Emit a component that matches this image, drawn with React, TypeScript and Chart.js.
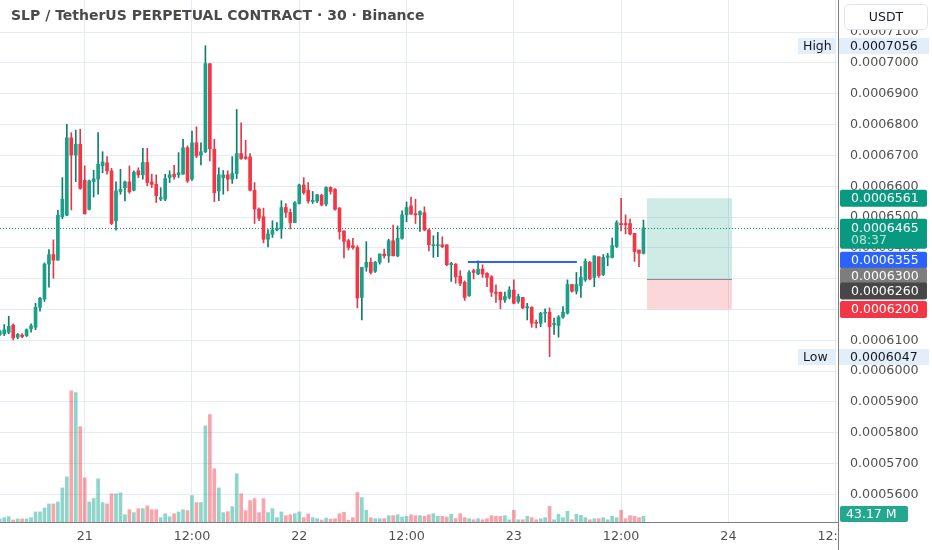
import React, { useEffect, useRef } from "react";
import { Chart, registerables } from "chart.js";

Chart.register(...registerables);

// Bars are 30-minute candles, counted from 21 00:00 (bar 0).
const FIRST_BAR = -19;

const OPEN = [
  0.0006118, 0.0006121, 0.0006126, 0.0006149, 0.000611, 0.0006117, 0.0006115, 0.0006137, 0.0006142, 0.0006207,
  0.0006234, 0.0006347, 0.0006378, 0.000636, 0.0006501, 0.0006506, 0.0006757, 0.0006701, 0.0006736,
  0.0006619, 0.0006525, 0.0006615, 0.0006623, 0.0006666, 0.0006676, 0.000665, 0.0006488, 0.0006583, 0.0006595,
  0.0006614, 0.0006587, 0.000665, 0.0006637, 0.0006677, 0.0006614, 0.0006606,
  0.0006558, 0.0006558, 0.0006628, 0.0006639, 0.0006637, 0.0006639, 0.0006725, 0.0006623, 0.0006741, 0.0006701,
  0.0006712, 0.0006998, 0.000672, 0.0006585, 0.0006628, 0.0006637, 0.0006623, 0.0006641, 0.0006706, 0.0006695,
  0.0006695, 0.0006587, 0.0006526, 0.0006501, 0.0006428, 0.0006444, 0.0006458, 0.0006461, 0.0006531, 0.0006515,
  0.0006482, 0.0006544, 0.0006604, 0.0006587,
  0.000655, 0.0006552, 0.0006571, 0.0006542, 0.0006596, 0.000659, 0.0006529, 0.0006455, 0.0006423, 0.0006407,
  0.0006401, 0.0006239, 0.0006337, 0.0006353, 0.0006324, 0.0006353, 0.000638, 0.0006374, 0.0006423, 0.0006374,
  0.0006431, 0.0006507, 0.0006536, 0.0006511, 0.0006507, 0.0006514, 0.0006458, 0.0006407, 0.0006407, 0.000641,
  0.000641, 0.0006345, 0.0006347, 0.0006308, 0.0006288, 0.0006245,
  0.0006326, 0.0006315, 0.0006331, 0.0006317, 0.0006306, 0.0006256, 0.0006256, 0.0006231, 0.0006239, 0.0006263,
  0.0006226, 0.0006239, 0.0006205, 0.0006207, 0.0006158, 0.0006155, 0.0006188, 0.0006191, 0.0006151, 0.0006148,
  0.0006175, 0.0006188, 0.0006281, 0.0006259, 0.0006277, 0.0006296, 0.0006353, 0.0006304, 0.0006371, 0.0006313,
  0.0006369, 0.0006369, 0.0006404, 0.0006479, 0.0006479, 0.0006479, 0.0006447, 0.0006393, 0.0006382,
];

const HIGH = [
  0.0006133, 0.0006151, 0.0006178, 0.0006153, 0.0006122, 0.0006122, 0.0006137, 0.0006153, 0.000622, 0.0006239,
  0.0006351, 0.0006394, 0.0006426, 0.0006522, 0.0006628, 0.0006801, 0.0006774, 0.0006782, 0.0006785,
  0.0006666, 0.000662, 0.0006652, 0.0006774, 0.0006712, 0.0006696, 0.0006658, 0.0006614, 0.0006655, 0.0006617,
  0.0006666, 0.000665, 0.000666, 0.0006723, 0.0006723, 0.0006639, 0.0006637,
  0.0006595, 0.0006639, 0.000665, 0.0006668, 0.0006709, 0.0006752, 0.0006731, 0.0006779, 0.0006793, 0.0006741,
  0.0007056, 0.0006998, 0.0006752, 0.000666, 0.0006651, 0.000665, 0.0006696, 0.0006849, 0.0006806, 0.0006749,
  0.0006706, 0.0006612, 0.000653, 0.0006529, 0.0006459, 0.0006488, 0.0006482, 0.0006553, 0.0006544, 0.0006526,
  0.000655, 0.0006607, 0.0006628, 0.0006612,
  0.0006583, 0.0006574, 0.0006574, 0.0006598, 0.0006598, 0.0006592, 0.0006531, 0.0006455, 0.0006428, 0.0006431,
  0.0006407, 0.0006337, 0.000642, 0.0006367, 0.0006356, 0.000638, 0.0006396, 0.0006428, 0.0006474, 0.0006471,
  0.000652, 0.0006549, 0.0006565, 0.0006558, 0.000652, 0.0006533, 0.0006461, 0.0006439, 0.000645, 0.0006436,
  0.000641, 0.0006353, 0.0006349, 0.0006326, 0.0006293, 0.0006326,
  0.0006331, 0.0006358, 0.0006345, 0.000632, 0.000631, 0.000628, 0.0006256, 0.0006256, 0.0006274, 0.0006296,
  0.000625, 0.0006239, 0.000622, 0.0006209, 0.0006166, 0.0006191, 0.0006202, 0.0006205, 0.0006172, 0.000618,
  0.0006209, 0.0006296, 0.0006281, 0.000632, 0.0006339, 0.0006364, 0.0006356, 0.0006374, 0.0006371, 0.0006378,
  0.0006382, 0.0006432, 0.0006488, 0.0006561, 0.0006507, 0.0006493, 0.0006447, 0.0006393, 0.000649,
];

const LOW = [
  0.0006115, 0.0006115, 0.0006121, 0.0006101, 0.0006105, 0.0006108, 0.0006112, 0.0006126, 0.0006134, 0.0006194,
  0.0006226, 0.0006272, 0.0006301, 0.000636, 0.0006495, 0.0006504, 0.0006523, 0.0006615, 0.000659,
  0.0006509, 0.0006523, 0.0006565, 0.0006574, 0.0006644, 0.0006639, 0.0006475, 0.0006457, 0.0006574, 0.0006552,
  0.0006577, 0.0006585, 0.0006628, 0.0006623, 0.0006601, 0.0006596, 0.0006547,
  0.0006553, 0.0006553, 0.0006612, 0.0006623, 0.0006628, 0.0006639, 0.0006612, 0.0006619, 0.0006693, 0.0006669,
  0.0006709, 0.0006682, 0.000655, 0.0006553, 0.0006574, 0.0006585, 0.0006609, 0.0006625, 0.0006687, 0.0006687,
  0.0006585, 0.0006479, 0.0006488, 0.0006416, 0.0006403, 0.0006434, 0.0006455, 0.0006431, 0.0006499, 0.0006461,
  0.0006482, 0.0006542, 0.0006574, 0.0006545,
  0.0006544, 0.0006547, 0.0006536, 0.0006536, 0.0006574, 0.0006522, 0.0006428, 0.0006367, 0.0006393, 0.0006396,
  0.0006205, 0.0006166, 0.0006324, 0.0006315, 0.000632, 0.0006347, 0.0006367, 0.0006353, 0.0006374, 0.0006371,
  0.0006428, 0.0006485, 0.0006509, 0.0006479, 0.0006453, 0.0006455, 0.000639, 0.0006369, 0.0006371, 0.0006401,
  0.0006342, 0.0006291, 0.0006285, 0.0006277, 0.0006229, 0.0006242,
  0.0006299, 0.0006313, 0.0006304, 0.0006274, 0.0006242, 0.0006223, 0.0006202, 0.0006223, 0.0006234, 0.0006218,
  0.000622, 0.0006202, 0.0006166, 0.0006142, 0.000614, 0.0006144, 0.0006159, 0.0006047, 0.0006119, 0.000611,
  0.0006172, 0.0006185, 0.0006256, 0.000625, 0.0006239, 0.0006291, 0.0006296, 0.0006274, 0.0006304, 0.000631,
  0.0006342, 0.0006367, 0.0006401, 0.0006455, 0.0006445, 0.0006442, 0.0006356, 0.0006339, 0.000638,
];

const CLOSE = [
  0.000613, 0.0006134, 0.0006145, 0.0006108, 0.0006119, 0.0006112, 0.0006134, 0.0006147, 0.0006207, 0.0006236,
  0.0006347, 0.0006378, 0.000636, 0.0006506, 0.0006558, 0.0006757, 0.0006701, 0.0006736, 0.0006593,
  0.0006511, 0.0006617, 0.0006624, 0.0006671, 0.0006679, 0.000665, 0.0006479, 0.0006585, 0.000659, 0.0006614,
  0.0006582, 0.0006645, 0.0006637, 0.0006677, 0.0006612, 0.0006606, 0.0006569,
  0.0006563, 0.0006625, 0.0006637, 0.0006631, 0.0006644, 0.0006725, 0.0006617, 0.0006741, 0.0006698, 0.0006712,
  0.0006998, 0.0006722, 0.0006579, 0.0006637, 0.0006637, 0.0006623, 0.0006641, 0.0006706, 0.000669, 0.000669,
  0.0006587, 0.0006526, 0.0006496, 0.0006428, 0.0006445, 0.0006458, 0.0006464, 0.0006531, 0.0006515, 0.0006482,
  0.0006547, 0.0006604, 0.0006579, 0.0006552,
  0.0006554, 0.0006572, 0.0006539, 0.0006596, 0.0006583, 0.0006525, 0.0006453, 0.0006421, 0.0006401, 0.0006401,
  0.0006237, 0.0006337, 0.0006353, 0.000632, 0.0006353, 0.000638, 0.0006374, 0.0006423, 0.0006374, 0.0006431,
  0.0006507, 0.0006531, 0.0006509, 0.0006507, 0.0006518, 0.0006458, 0.000641, 0.000641, 0.000641, 0.0006404,
  0.0006345, 0.0006349, 0.0006306, 0.0006285, 0.0006239, 0.000632,
  0.000632, 0.0006331, 0.0006315, 0.0006304, 0.0006256, 0.0006252, 0.0006231, 0.0006242, 0.0006263, 0.000622,
  0.0006242, 0.0006205, 0.0006209, 0.0006155, 0.0006155, 0.0006188, 0.0006191, 0.0006144, 0.0006155, 0.0006175,
  0.0006191, 0.0006281, 0.0006259, 0.0006281, 0.0006304, 0.0006356, 0.0006299, 0.0006374, 0.000631, 0.0006369,
  0.0006374, 0.0006407, 0.0006482, 0.0006475, 0.0006475, 0.0006445, 0.0006388, 0.0006382, 0.0006465,
];

// Volume in millions (SLP)
const VOLUME_M = [
  23, 33, 40, 15, 23, 23, 23, 33, 76, 76, 106, 137, 137, 152, 258, 342, 993, 980, 722,
  334, 152, 177, 327, 147, 137, 213, 213, 220, 55, 93, 71, 101, 101, 122, 93, 93,
  33, 63, 40, 63, 76, 93, 86, 200, 147, 147, 727, 813, 403, 258, 71, 78, 116, 365, 213, 86,
  162, 177, 71, 177, 71, 101, 33, 76, 48, 55, 63, 76, 33, 61,
  33, 25, 15, 30, 21, 25, 63, 74, 13, 33, 223, 185, 89, 33, 25, 25, 25, 48, 48, 55,
  38, 43, 55, 48, 48, 43, 55, 63, 43, 43, 38, 59, 25, 63, 33, 25,
  17, 25, 17, 25, 48, 43, 43, 48, 17, 89, 17, 17, 43, 33, 17, 25, 33, 119, 17, 59,
  33, 81, 17, 59, 51, 33, 17, 25, 25, 33, 17, 43, 33, 89, 25, 48, 43, 33, 43.17,
];

const X_TICK_BARS = [0, 24, 48, 72, 96, 120, 144, 168];
const X_TICK_LABELS = ["21", "12:00", "22", "12:00", "23", "12:00", "24", "12:00"];
const PRICE_TICKS = [
  0.00056, 0.00057, 0.00058, 0.00059, 0.0006, 0.00061, 0.00062, 0.00063,
  0.00064, 0.00065, 0.00066, 0.00067, 0.00068, 0.00069, 0.0007, 0.00071,
];

const X_MIN = -18.95;
const X_MAX = 168.52;
const Y_MIN = 0.000551;
const Y_MAX = 0.00072045;
const VOL_MAX = 3950;

const TITLE = "SLP / TetherUS PERPETUAL CONTRACT · 30 · Binance";
const CURRENCY = "USDT";
const HIGH_PRICE = 0.0007056;
const LOW_PRICE = 0.0006047;
const LAST_PRICE = 0.0006465;
const COUNTDOWN = "08:37";
const TARGET_PRICE = 0.0006561;
const LEVEL_PRICE = 0.0006355;
const ENTRY_PRICE = 0.00063;
const MARK_PRICE = 0.000626;
const STOP_PRICE = 0.00062;
const LAST_VOLUME = 43.17;
const LAST_VOLUME_LABEL = "43.17 M";
const LEVEL_FROM_BAR = 85.7;
const LEVEL_TO_BAR = 110.1;
const POSITION_FROM_BAR = 125.8;
const POSITION_TO_BAR = 144.8;

const FONT = '"DejaVu Sans", sans-serif';
const UP = "#1a9f88";
const DOWN = "#f23645";
const UP_WICK = "#0e7f6c";
const DOWN_WICK = "#e03a4a";
const GRID = "#e4ebf2";
const AXIS_TEXT = "#4f4f4f";

function rr(ctx: CanvasRenderingContext2D, x: number, y: number, w: number, h: number, r: number) {
  ctx.beginPath();
  ctx.moveTo(x + r, y);
  ctx.lineTo(x + w - r, y);
  ctx.quadraticCurveTo(x + w, y, x + w, y + r);
  ctx.lineTo(x + w, y + h - r);
  ctx.quadraticCurveTo(x + w, y + h, x + w - r, y + h);
  ctx.lineTo(x + r, y + h);
  ctx.quadraticCurveTo(x, y + h, x, y + h - r);
  ctx.lineTo(x, y + r);
  ctx.quadraticCurveTo(x, y, x + r, y);
  ctx.closePath();
}

const overlayPlugin = {
  id: "tvOverlay",
  beforeDatasetsDraw(chart: any) {
    const { ctx, chartArea, scales } = chart;
    const xs = scales.x;
    const ys = scales.y;
    ctx.save();
    ctx.beginPath();
    ctx.rect(chartArea.left, chartArea.top, chartArea.right - chartArea.left, chartArea.bottom - chartArea.top);
    ctx.clip();
    // long position tool
    const px0 = xs.getPixelForValue(POSITION_FROM_BAR);
    const px1 = xs.getPixelForValue(POSITION_TO_BAR);
    const yT = ys.getPixelForValue(TARGET_PRICE);
    const yE = ys.getPixelForValue(ENTRY_PRICE);
    const yS = ys.getPixelForValue(STOP_PRICE);
    ctx.fillStyle = "rgba(8,153,129,0.2)";
    ctx.fillRect(px0, yT, px1 - px0, yE - yT);
    ctx.fillStyle = "rgba(242,54,69,0.2)";
    ctx.fillRect(px0, yE, px1 - px0, yS - yE);
    ctx.strokeStyle = "#8a8d96";
    ctx.lineWidth = 1;
    ctx.beginPath();
    ctx.moveTo(px0, Math.round(yE) + 0.5);
    ctx.lineTo(px1, Math.round(yE) + 0.5);
    ctx.stroke();
    // current price dotted line
    const yL = Math.round(ys.getPixelForValue(LAST_PRICE)) + 0.5;
    ctx.setLineDash([1, 2]);
    ctx.strokeStyle = "#089981";
    ctx.beginPath();
    ctx.moveTo(chartArea.left, yL);
    ctx.lineTo(chartArea.right, yL);
    ctx.stroke();
    ctx.setLineDash([]);
    ctx.restore();
  },
  afterDatasetsDraw(chart: any) {
    const { ctx, scales } = chart;
    const xs = scales.x;
    const ys = scales.y;
    ctx.save();
    const yLv = Math.round(ys.getPixelForValue(LEVEL_PRICE));
    ctx.strokeStyle = "#2962ff";
    ctx.lineWidth = 2;
    ctx.beginPath();
    ctx.moveTo(xs.getPixelForValue(LEVEL_FROM_BAR), yLv);
    ctx.lineTo(xs.getPixelForValue(LEVEL_TO_BAR), yLv);
    ctx.stroke();
    ctx.restore();
  },
  afterDraw(chart: any) {
    const { ctx, chartArea, scales } = chart;
    const ys = scales.y;
    const yv = scales.yv;
    const left = chartArea.right;
    const bottom = chartArea.bottom;
    const W = chart.width;
    const H = chart.height;
    ctx.save();
    // clean the corner below the price scale
    ctx.fillStyle = "#ffffff";
    ctx.fillRect(left + 1, bottom + 1, W - left, H - bottom);
    // price scale border
    ctx.strokeStyle = "#7d7d7d";
    ctx.lineWidth = 1;
    ctx.beginPath();
    ctx.moveTo(Math.round(left) + 0.5, 0);
    ctx.lineTo(Math.round(left) + 0.5, H);
    ctx.stroke();

    // title
    ctx.font = `bold 14px ${FONT}`;
    ctx.fillStyle = "#4a4a4a";
    ctx.textBaseline = "middle";
    ctx.textAlign = "left";
    ctx.fillText(TITLE, 11, 16);

    // currency button
    rr(ctx, left + 6.5, 4.5, 83, 25, 5);
    ctx.fillStyle = "#ffffff";
    ctx.fill();
    ctx.strokeStyle = "#e0e3eb";
    ctx.stroke();
    ctx.font = `12.5px ${FONT}`;
    ctx.fillStyle = "#131722";
    ctx.textAlign = "center";
    ctx.fillText(CURRENCY, left + 48, 17.5);
    ctx.textAlign = "left";

    const font = `12.5px ${FONT}`;
    ctx.font = font;

    // High / Low markers
    const hl = (price: number, name: string) => {
      const yc = Math.round(ys.getPixelForValue(price));
      ctx.fillStyle = "#e3eefb";
      ctx.fillRect(left - 40, yc - 8, 38, 16);
      ctx.fillRect(left + 1, yc - 8, 90, 16);
      ctx.fillStyle = "#131722";
      ctx.fillText(name, left - 35, yc + 0.5);
      ctx.fillText(price.toFixed(7), left + 12, yc + 0.5);
    };
    hl(HIGH_PRICE, "High");
    hl(LOW_PRICE, "Low");

    const tag = (yc: number, text: string, bg: string, sub?: string) => {
      const h = sub ? 30 : 17;
      const top = sub ? yc - 9 : yc - 8.5;
      rr(ctx, left + 2, top, 87, h, 2);
      ctx.fillStyle = bg;
      ctx.fill();
      ctx.fillStyle = "#ffffff";
      ctx.fillText(text, left + 13, yc + 0.5);
      if (sub) {
        ctx.fillStyle = "rgba(255,255,255,0.72)";
        ctx.fillText(sub, left + 13, yc + 13);
      }
    };
    tag(ys.getPixelForValue(TARGET_PRICE), TARGET_PRICE.toFixed(7), "#089981");
    tag(ys.getPixelForValue(LAST_PRICE), LAST_PRICE.toFixed(7), "#089981", COUNTDOWN);
    tag(ys.getPixelForValue(LEVEL_PRICE) - 1.5, LEVEL_PRICE.toFixed(7), "#2962ff");
    tag(ys.getPixelForValue(ENTRY_PRICE) - 2.5, ENTRY_PRICE.toFixed(7), "#7d7d7d");
    tag(ys.getPixelForValue(MARK_PRICE), MARK_PRICE.toFixed(7), "#474747");
    tag(ys.getPixelForValue(STOP_PRICE), STOP_PRICE.toFixed(7), "#f23645");

    // last volume tag
    const vy = Math.min(yv.getPixelForValue(LAST_VOLUME), bottom - 8);
    rr(ctx, left + 2, vy - 8, 68, 16, 2);
    ctx.fillStyle = "#22a88f";
    ctx.fill();
    ctx.fillStyle = "#ffffff";
    ctx.fillText(LAST_VOLUME_LABEL, left + 8, vy + 0.5);
    ctx.restore();
  },
};

export default function App() {
  const ref = useRef<HTMLCanvasElement | null>(null);

  useEffect(() => {
    const canvas = ref.current;
    if (!canvas) return;
    const bars = OPEN.map((_, k) => FIRST_BAR + k);
    const isUp = OPEN.map((o, k) => CLOSE[k] >= o);
    const bodyColors = isUp.map((u) => (u ? UP : DOWN));
    const wickColors = isUp.map((u) => (u ? UP_WICK : DOWN_WICK));
    const volColors = isUp.map((u) => (u ? "rgba(34,171,148,0.5)" : "rgba(242,54,69,0.45)"));

    const chart = new Chart(canvas, {
      type: "bar",
      data: {
        datasets: [
          {
            label: "body",
            data: bars.map((b, k) => ({ x: b, y: [OPEN[k], CLOSE[k]] })) as any,
            backgroundColor: bodyColors,
            barThickness: 3,
            minBarLength: 1,
            grouped: false,
            borderWidth: 0,
            yAxisID: "y",
            order: 1,
          } as any,
          {
            label: "wick",
            data: bars.map((b, k) => ({ x: b, y: [LOW[k], HIGH[k]] })) as any,
            backgroundColor: wickColors,
            barThickness: 1,
            grouped: false,
            borderWidth: 0,
            yAxisID: "y",
            order: 2,
          } as any,
          {
            label: "volume",
            data: bars.map((b, k) => ({ x: b, y: VOLUME_M[k] })) as any,
            backgroundColor: volColors,
            barThickness: 3,
            grouped: false,
            borderWidth: 0,
            yAxisID: "yv",
            order: 3,
          } as any,
        ],
      },
      options: {
        animation: false,
        responsive: false,
        events: [],
        layout: { padding: 0 },
        plugins: { legend: { display: false }, tooltip: { enabled: false }, title: { display: false } },
        scales: {
          x: {
            type: "linear",
            offset: false,
            min: X_MIN,
            max: X_MAX,
            afterBuildTicks: (s: any) => {
              s.ticks = X_TICK_BARS.map((v) => ({ value: v }));
            },
            afterFit: (s: any) => {
              s.height = 28;
              s.paddingLeft = 0;
              s.paddingRight = 0;
            },
            grid: { color: GRID, drawTicks: false, offset: false },
            border: { display: true, color: "#7d7d7d", width: 1 },
            ticks: {
              padding: 7,
              autoSkip: false,
              maxRotation: 0,
              color: AXIS_TEXT,
              font: { family: FONT, size: 12.7 },
              callback: (_v: any, i: number) => X_TICK_LABELS[i],
            },
          },
          y: {
            type: "linear",
            position: "right",
            min: Y_MIN,
            max: Y_MAX,
            afterBuildTicks: (s: any) => {
              s.ticks = PRICE_TICKS.map((v) => ({ value: v }));
            },
            afterFit: (s: any) => {
              s.width = 94;
              s.paddingTop = 0;
              s.paddingBottom = 0;
            },
            grid: { color: GRID, drawTicks: false },
            border: { display: false },
            ticks: {
              padding: 12,
              autoSkip: false,
              color: AXIS_TEXT,
              font: { family: FONT, size: 12.7 },
              callback: (v: any) => Number(v).toFixed(7),
            },
          },
          yv: {
            type: "linear",
            display: false,
            min: 0,
            max: VOL_MAX,
          },
        },
      } as any,
      plugins: [overlayPlugin as any],
    });
    return () => chart.destroy();
  }, []);

  return (
    <div style={{ position: "fixed", left: 0, top: 0, width: 932, height: 550, background: "#ffffff" }}>
      <canvas ref={ref} width={932} height={550} style={{ display: "block", width: 932, height: 550 }} />
    </div>
  );
}
